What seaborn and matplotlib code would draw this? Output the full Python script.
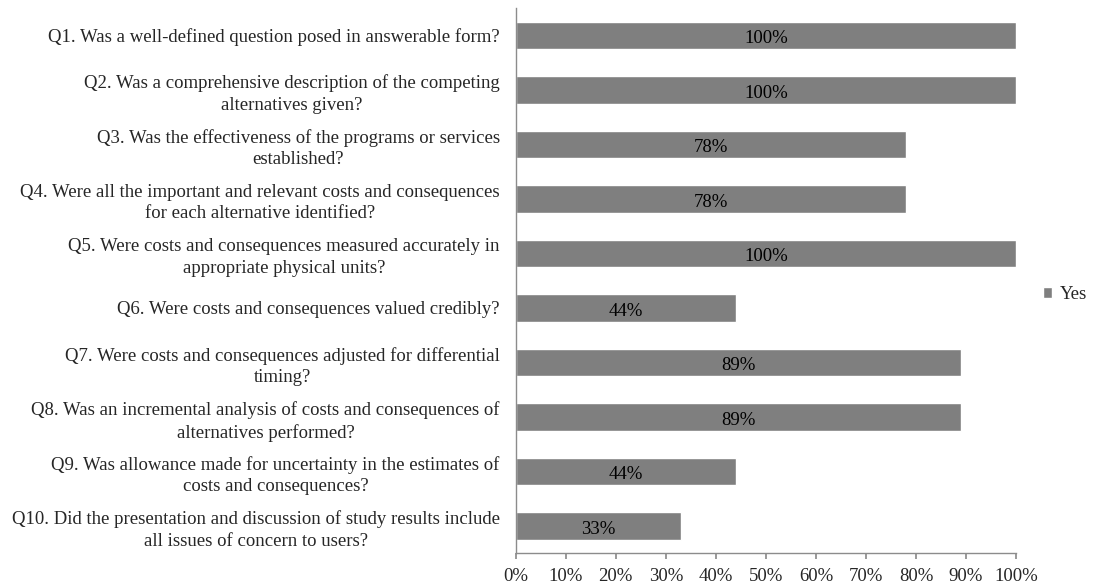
import pandas as pd
import seaborn as sns
import matplotlib.pyplot as plt
from matplotlib.ticker import PercentFormatter

# data
questions = [
    'Q1. Was a well-defined question posed in answerable form?',
    'Q2. Was a comprehensive description of the competing\nalternatives given?',
    'Q3. Was the effectiveness of the programs or services\nestablished?',
    'Q4. Were all the important and relevant costs and consequences\nfor each alternative identified?',
    'Q5. Were costs and consequences measured accurately in\nappropriate physical units?',
    'Q6. Were costs and consequences valued credibly?',
    'Q7. Were costs and consequences adjusted for differential\ntiming?',
    'Q8. Was an incremental analysis of costs and consequences of\nalternatives performed?',
    'Q9. Was allowance made for uncertainty in the estimates of\ncosts and consequences?',
    'Q10. Did the presentation and discussion of study results include\nall issues of concern to users?',
]
yes_pct = [100, 100, 78, 78, 100, 44, 89, 89, 44, 33]
series_name = 'Yes'

df = pd.DataFrame({'question': questions, 'pct': yes_pct})

FS = 13.5

sns.set_theme(style='white')
plt.rcParams['font.family'] = ['Liberation Serif', 'DejaVu Serif']
plt.rcParams['font.size'] = FS

fig = plt.figure(figsize=(11.02, 5.86), dpi=100)
ax = fig.add_axes([0.468, 0.056, 0.454, 0.930])

sns.barplot(data=df, x='pct', y='question', color='#7f7f7f', saturation=1,
            width=0.5, label=series_name, ax=ax)

# value labels in the middle of each bar (nudged down a little, like the original)
for cont in ax.containers:
    labels = ax.bar_label(cont, labels=[f'{v}%' for v in yes_pct],
                          label_type='center', fontsize=FS, color='black')
    for t in labels:
        t.xyann = (t.xyann[0], t.xyann[1] - 2.5)

ax.set_xlim(0, 100)
ax.set_xticks(range(0, 101, 10))
ax.xaxis.set_major_formatter(PercentFormatter(decimals=0))
ax.set_xlabel('')
ax.set_ylabel('')
ax.set_ylim(9.5, -0.5)

for lbl in ax.get_yticklabels():
    lbl.set_multialignment('center')
    lbl.set_fontsize(FS)
    lbl.set_linespacing(1.35)
for lbl in ax.get_xticklabels():
    lbl.set_fontsize(FS)

for side in ['top', 'right']:
    ax.spines[side].set_visible(False)
for side in ['left', 'bottom']:
    ax.spines[side].set_color('#8c8c8c')
    ax.spines[side].set_linewidth(1)

ax.tick_params(axis='x', bottom=True, length=4, color='#8c8c8c', pad=7)
ax.tick_params(axis='y', left=False, length=0, pad=11.5)

leg = ax.legend(loc='center left', bbox_to_anchor=(1.02, 0.474), frameon=False,
                handlelength=0.5, handleheight=0.5, handletextpad=0.4, fontsize=FS)

fig.savefig('out.png', dpi=100)
